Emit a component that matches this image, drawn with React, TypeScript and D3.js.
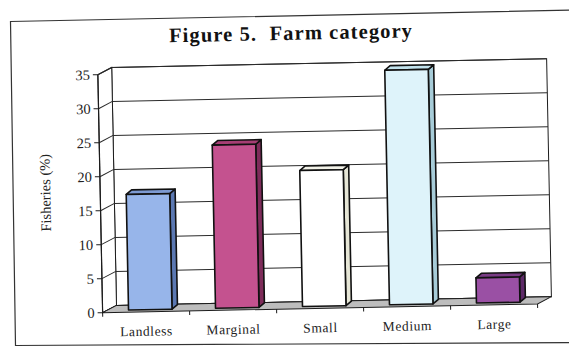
import React from "react";
import * as d3 from "d3";

// Share of households engaged in fisheries, by farm category
const categories = ["Landless", "Marginal", "Small", "Medium", "Large"];
const fisheriesPct = [17, 24, 20, 34.5, 3.7];
const yTicks = [0, 5, 10, 15, 20, 25, 30, 35];
const frontColors = ["#97b5ea", "#c4528f", "#ffffff", "#def3fa", "#9a50a4"];
const sideColors = ["#5b78b2", "#7e2c5a", "#e6e6d6", "#a7ccd8", "#5e2a68"];
const topColors = ["#7d9ad2", "#a63e74", "#f2f2e8", "#c2e2ec", "#7a3c85"];

const W = 569;
const H = 347;

// oblique depth of the chart walls and of each column
const WALL_DX = 14;
const WALL_DY = -7;
const BAR_OFF_DX = 4.2;
const BAR_OFF_DY = -2.1;
const BAR_DX = 5.5;
const BAR_DY = -4.5;

const ink = "#1c1c1c";
const serif = "'Liberation Serif', 'DejaVu Serif', serif";

export default function App() {
  const y = d3.scaleLinear().domain([0, 35]).range([309, 71]);
  const x = d3
    .scaleBand<string>()
    .domain(categories)
    .range([100, 535])
    .paddingInner(0.5)
    .paddingOuter(0.25);

  const x0 = 100;
  const x1 = 535;
  const yTop = y(35);
  const yBase = y(0);
  const step = x.step();
  const boundaries = d3.range(categories.length + 1).map((i) => x0 + i * step);

  const pts = (p: [number, number][]) => p.map((q) => q.join(",")).join(" ");

  return (
    <svg
      width={W}
      height={H}
      style={{ position: "absolute", left: 0, top: 0, background: "#fff" }}
    >
      <rect x={0} y={0} width={W} height={H} fill="#fff" />
      {/* page frame, slightly skewed */}
      <polygon
        points={pts([
          [10.5, 21.5],
          [576, 10],
          [580, 342.5],
          [15.5, 345.5],
        ])}
        fill="none"
        stroke="#333"
        strokeWidth={1.2}
      />
      <g transform="rotate(-1.15 284 180)">
        <text
          x={294}
          y={40}
          textAnchor="middle"
          fontFamily={serif}
          fontWeight="bold"
          fontSize={20.5}
          letterSpacing={1.1}
          fill="#111"
        >
          Figure 5.{"\u00a0\u00a0"}Farm category
        </text>

        {/* back wall */}
        <rect
          x={x0 + WALL_DX}
          y={yTop + WALL_DY}
          width={x1 - x0}
          height={yBase - yTop}
          fill="#fff"
          stroke={ink}
          strokeWidth={1}
        />
        {/* side wall */}
        <polygon
          points={pts([
            [x0, yTop],
            [x0 + WALL_DX, yTop + WALL_DY],
            [x0 + WALL_DX, yBase + WALL_DY],
            [x0, yBase],
          ])}
          fill="#fff"
          stroke={ink}
          strokeWidth={1}
        />
        {yTicks.map((t) => (
          <g key={"g" + t}>
            <line
              x1={x0 + WALL_DX}
              x2={x1 + WALL_DX}
              y1={y(t) + WALL_DY}
              y2={y(t) + WALL_DY}
              stroke="#2a2a2a"
              strokeWidth={1}
            />
            <line
              x1={x0}
              x2={x0 + WALL_DX}
              y1={y(t)}
              y2={y(t) + WALL_DY}
              stroke="#2a2a2a"
              strokeWidth={1}
            />
          </g>
        ))}

        {/* floor */}
        <polygon
          points={pts([
            [x0, yBase],
            [x1, yBase],
            [x1 + WALL_DX, yBase + WALL_DY],
            [x0 + WALL_DX, yBase + WALL_DY],
          ])}
          fill="#bdbdbd"
          stroke={ink}
          strokeWidth={1}
        />

        {/* value axis */}
        <line x1={x0} x2={x0} y1={yTop} y2={yBase} stroke={ink} strokeWidth={1.2} />
        {yTicks.map((t) => (
          <g key={"t" + t}>
            <line x1={x0 - 5} x2={x0} y1={y(t)} y2={y(t)} stroke={ink} strokeWidth={1} />
            <text
              x={x0 - 8}
              y={y(t)}
              dy="0.35em"
              textAnchor="end"
              fontFamily={serif}
              fontSize={14.5}
              fill="#222"
            >
              {t}
            </text>
          </g>
        ))}
        <text
          transform={`translate(45,188) rotate(-90)`}
          textAnchor="middle"
          dy="0.35em"
          fontFamily={serif}
          fontSize={14.5}
          fill="#222"
        >
          Fisheries (%)
        </text>

        {/* category ticks */}
        {boundaries.map((b, i) => (
          <line
            key={"b" + i}
            x1={b}
            x2={b}
            y1={yBase}
            y2={yBase + 4}
            stroke={ink}
            strokeWidth={1}
          />
        ))}

        {/* columns */}
        {categories.map((c, i) => {
          const bx = (x(c) as number) + BAR_OFF_DX;
          const bw = x.bandwidth();
          const by = y(fisheriesPct[i]) + BAR_OFF_DY;
          const bb = yBase + BAR_OFF_DY;
          const side: [number, number][] = [
            [bx + bw, by],
            [bx + bw + BAR_DX, by + BAR_DY],
            [bx + bw + BAR_DX, bb + BAR_DY],
            [bx + bw, bb],
          ];
          const top: [number, number][] = [
            [bx, by],
            [bx + BAR_DX, by + BAR_DY],
            [bx + bw + BAR_DX, by + BAR_DY],
            [bx + bw, by],
          ];
          return (
            <g key={c} stroke="#111" strokeWidth={1.6} strokeLinejoin="round">
              <polygon points={pts(side)} fill={sideColors[i]} />
              <polygon points={pts(top)} fill={topColors[i]} />
              <rect x={bx} y={by} width={bw} height={bb - by} fill={frontColors[i]} />
            </g>
          );
        })}

        {/* category labels */}
        {categories.map((c) => (
          <text
            key={"l" + c}
            x={(x(c) as number) + x.bandwidth() / 2}
            y={333}
            textAnchor="middle"
            fontFamily={serif}
            fontSize={13.5}
            letterSpacing={0.6}
            fill="#222"
          >
            {c}
          </text>
        ))}
      </g>
    </svg>
  );
}
